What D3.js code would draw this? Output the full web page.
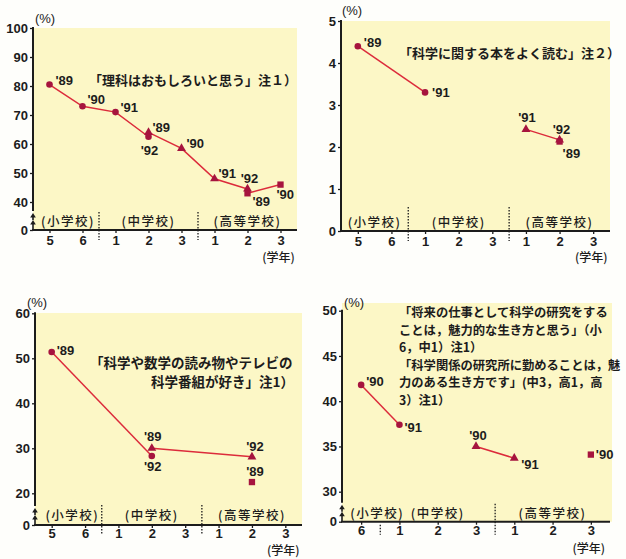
<!DOCTYPE html>
<html><head><meta charset="utf-8">
<script src="https://cdn.jsdelivr.net/npm/d3@7"></script>
<style>
html,body{margin:0;padding:0;background:#fefefb;}
svg{display:block;}
</style></head><body>
<svg id="chart" width="626" height="559"></svg>
<script>
// ---------- data ----------
const gradeKeys = ["小5","小6","中1","中2","中3","高1","高2","高3"];
const gradeKeysP4 = ["小6","中1","中2","中3","高1","高2","高3"];
const gradeTickLabels = ["5","6","1","2","3","1","2","3"];
const gradeTickLabelsP4 = ["6","1","2","3","1","2","3"];
const schoolNames = ["(小学校)","(中学校)","(高等学校)"];
const yearUnit = "(学年)";
const pctUnit = "(%)";

// panel 1
const p1Notes = ["「理科はおもしろいと思う」注１）"];
const p1YTicks = [0,40,50,60,70,80,90,100];
const p1CircleGrades = ["小5","小6","中1","中2"];
const p1CircleValues = [80.5,73,71,62.5];
const p1CircleYears = ["'89","'90","'91","'92"];
const p1TriangleGrades = ["中2","中3","高1","高2"];
const p1TriangleValues = [64,58.5,48,44.5];
const p1TriangleYears = ["'89","'90","'91","'92"];
const p1SquareGrades = ["高2","高3"];
const p1SquareValues = [43,46];
const p1SquareYears = ["'89","'90"];

// panel 2
const p2Notes = ["「科学に関する本をよく読む」注２）"];
const p2YTicks = [0,1,2,3,4,5];
const p2CircleGrades = ["小5","中1"];
const p2CircleValues = [4.4,3.3];
const p2CircleYears = ["'89","'91"];
const p2TriangleGrades = ["高1","高2"];
const p2TriangleValues = [2.42,2.17];
const p2TriangleYears = ["'91","'92"];
const p2SquareGrades = ["高2"];
const p2SquareValues = [2.13];
const p2SquareYears = ["'89"];

// panel 3
const p3Notes = ["「科学や数学の読み物やテレビの","科学番組が好き」注1）"];
const p3YTicks = [0,20,30,40,50,60];
const p3CircleGrades = ["小5","中2"];
const p3CircleValues = [51.4,28.3];
const p3CircleYears = ["'89","'92"];
const p3TriangleGrades = ["中2","高2"];
const p3TriangleValues = [30,28.1];
const p3TriangleYears = ["'89","'92"];
const p3SquareGrades = ["高2"];
const p3SquareValues = [22.5];
const p3SquareYears = ["'89"];

// panel 4
const p4Notes = ["「将来の仕事として科学の研究をする",
                 "ことは，魅力的な生き方と思う」（小",
                 "6，中1）注1）",
                 "「科学関係の研究所に勤めることは，魅",
                 "力のある生き方です」(中3，高1，高",
                 "3）注1）"];
const p4YTicks = [0,30,35,40,45,50];
const p4CircleGrades = ["小6","中1"];
const p4CircleValues = [41.8,37.4];
const p4CircleYears = ["'90","'91"];
const p4TriangleGrades = ["中3","高1"];
const p4TriangleValues = [35,33.7];
const p4TriangleYears = ["'90","'91"];
const p4SquareGrades = ["高3"];
const p4SquareValues = [34.1];
const p4SquareYears = ["'90"];

// ---------- drawing ----------
const svg = d3.select("#chart");
const YELLOW = "#fcf7c6", LINE = "#dc2b3b", MARK = "#a6143e", INK = "#1c1c1c";
const NUMFONT = "'Liberation Sans', Arial, sans-serif";
const JPFONT = "'Noto Sans CJK JP', 'Noto Sans CJK SC', sans-serif";

function series(grades, values, years, shape, offsets) {
  return { shape, offsets, points: d3.zip(grades, values, years).map(([g, v, yr]) => ({ g, v, yr })) };
}

function drawPanel(cfg) {
  const g = svg.append("g");
  const x = d3.scalePoint().domain(cfg.grades).range([cfg.x0, cfg.x1]).padding(0.5);
  const y = d3.scaleLinear().domain(cfg.yDomain).range(cfg.yRange);
  const y0 = y(0);
  const top = y(cfg.yDomain[cfg.yDomain.length - 1]);

  g.append("rect").attr("x", cfg.x0).attr("y", cfg.bgTop)
    .attr("width", cfg.bgRight - cfg.x0).attr("height", y0 - cfg.bgTop).attr("fill", YELLOW);

  // dotted separators
  cfg.separators.forEach(s => {
    const sx = (x(s.a) + x(s.b)) / 2;
    g.append("line").attr("x1", sx).attr("x2", sx).attr("y1", y0 + s.from).attr("y2", y0 + s.to)
      .attr("stroke", INK).attr("stroke-width", 1.3).attr("stroke-dasharray", "1.6,1.4");
  });

  // school labels
  cfg.schools.forEach((s, i) => {
    const cx = (x(s.first) + x(s.last)) / 2 + (s.dx || 0);
    g.append("text").attr("x", cx).attr("y", y0 + cfg.schoolDy).attr("text-anchor", "middle")
      .attr("font-family", JPFONT).attr("font-size", 12.5).attr("font-weight", 500)
      .attr("letter-spacing", 1.5).attr("fill", INK).text(schoolNames[i]);
  });

  // notes
  cfg.notes.forEach((t, i) => {
    const p = cfg.notePos[i];
    g.append("text").attr("x", p[0]).attr("y", p[1]).attr("text-anchor", p[2] || "start")
      .attr("font-family", JPFONT).attr("font-size", cfg.noteSize).attr("font-weight", 600)
      .attr("fill", INK).text(t);
  });

  // series
  const line = d3.line().x(d => x(d.g)).y(d => y(d.v));
  cfg.series.forEach(s => {
    if (s.points.length > 1) {
      g.append("path").attr("d", line(s.points)).attr("fill", "none")
        .attr("stroke", LINE).attr("stroke-width", 1.5);
    }
  });
  cfg.series.forEach(s => {
    s.points.forEach((d, i) => {
      const px = x(d.g), py = y(d.v);
      if (s.shape === "circle") {
        g.append("circle").attr("cx", px).attr("cy", py).attr("r", 3.3).attr("fill", MARK);
      } else {
        const sym = s.shape === "triangle" ? d3.symbolTriangle : d3.symbolSquare;
        const size = s.shape === "triangle" ? 34 : 40;
        g.append("path").attr("d", d3.symbol(sym, size)()).attr("transform", `translate(${px},${py})`).attr("fill", MARK);
      }
      const o = s.offsets[i];
      g.append("text").attr("x", px + o[0]).attr("y", py + o[1]).attr("text-anchor", o[2] || "start")
        .attr("font-family", NUMFONT).attr("font-size", 13).attr("font-weight", "bold")
        .attr("fill", INK).text(d.yr);
    });
  });

  // y axis
  const ya = g.append("g").attr("transform", `translate(${cfg.x0},0)`)
    .call(d3.axisLeft(y).tickValues(cfg.yTicks).tickSize(3).tickPadding(2).tickFormat(d3.format("d")));
  ya.select(".domain").remove();
  ya.selectAll(".tick line").attr("stroke", INK).attr("stroke-width", 1.3);
  ya.selectAll(".tick text").attr("font-family", NUMFONT).attr("font-size", 13)
    .attr("font-weight", "bold").attr("fill", INK);

  const ax = cfg.x0;
  if (cfg.broken) {
    g.append("line").attr("x1", ax).attr("x2", ax).attr("y1", top - 1).attr("y2", y0 - 19)
      .attr("stroke", INK).attr("stroke-width", 2);
    [[-17, -10], [-10, 0]].forEach(([tip, end]) => {
      g.append("path").attr("d", `M${ax},${y0 + tip}L${ax + 2.8},${y0 + tip + 4.5}L${ax - 2.8},${y0 + tip + 4.5}Z`).attr("fill", INK);
      g.append("line").attr("x1", ax).attr("x2", ax).attr("y1", y0 + tip + 3).attr("y2", y0 + end)
        .attr("stroke", INK).attr("stroke-width", 1.6);
    });
  } else {
    g.append("line").attr("x1", ax).attr("x2", ax).attr("y1", top - 1).attr("y2", y0)
      .attr("stroke", INK).attr("stroke-width", 2);
  }

  // x axis
  const xa = g.append("g").attr("transform", `translate(0,${y0})`)
    .call(d3.axisBottom(x).tickSize(3).tickPadding(cfg.tickPad).tickFormat((d, i) => cfg.tickLabels[i]));
  xa.select(".domain").remove();
  xa.selectAll(".tick line").attr("stroke", INK).attr("stroke-width", 1.3);
  xa.selectAll(".tick text").attr("font-family", NUMFONT).attr("font-size", 13)
    .attr("font-weight", "bold").attr("fill", INK);
  g.append("line").attr("x1", ax - 1).attr("x2", cfg.x1).attr("y1", y0).attr("y2", y0)
    .attr("stroke", INK).attr("stroke-width", 2);

  // units
  g.append("text").attr("x", cfg.pctPos[0]).attr("y", cfg.pctPos[1]).attr("text-anchor", "middle")
    .attr("font-family", NUMFONT).attr("font-size", 13).attr("fill", INK).text(pctUnit);
  g.append("text").attr("x", x(cfg.grades[cfg.grades.length - 1]) - 2).attr("y", y0 + cfg.unitDy)
    .attr("text-anchor", "middle").attr("font-family", JPFONT).attr("font-size", 12)
    .attr("font-weight", 500).attr("fill", INK).text(yearUnit);
}

// Panel 1
drawPanel({
  grades: gradeKeys, tickLabels: gradeTickLabels,
  x0: 33, x1: 297, bgTop: 28, bgRight: 297,
  yDomain: [0, 40, 100], yRange: [230, 202, 28], yTicks: p1YTicks, broken: true,
  separators: [{ a: "小6", b: "中1", from: -18, to: 10 }, { a: "中3", b: "高1", from: -18, to: 10 }],
  schools: [{ first: "小5", last: "小6", dx: 2 }, { first: "中2", last: "中2" }, { first: "高2", last: "高2" }],
  schoolDy: -4, unitDy: 32, tickPad: 3,
  notes: p1Notes, notePos: [[89, 85]], noteSize: 13,
  pctPos: [45, 23],
  series: [
    series(p1CircleGrades, p1CircleValues, p1CircleYears, "circle", [[6, 0], [5, -2], [5, 0], [1, 18, "middle"]]),
    series(p1TriangleGrades, p1TriangleValues, p1TriangleYears, "triangle", [[4, 0], [5, 0], [4, -1], [2, -6, "middle"]]),
    series(p1SquareGrades, p1SquareValues, p1SquareYears, "square", [[5, 13], [-4, 14]])
  ]
});

// Panel 2
drawPanel({
  grades: gradeKeys, tickLabels: gradeTickLabels,
  x0: 341, x1: 610, bgTop: 21, bgRight: 610,
  yDomain: [0, 5], yRange: [231, 21], yTicks: p2YTicks, broken: false,
  separators: [{ a: "小6", b: "中1", from: -24, to: 10 }, { a: "中3", b: "高1", from: -24, to: 10 }],
  schools: [{ first: "小5", last: "小6" }, { first: "中2", last: "中2" }, { first: "高2", last: "高2" }],
  schoolDy: -4, unitDy: 31, tickPad: 3,
  notes: p2Notes, notePos: [[399, 58]], noteSize: 13,
  pctPos: [352, 15],
  series: [
    series(p2CircleGrades, p2CircleValues, p2CircleYears, "circle", [[6, 1], [7, 5]]),
    series(p2TriangleGrades, p2TriangleValues, p2TriangleYears, "triangle", [[1, -7, "middle"], [2, -6, "middle"]]),
    series(p2SquareGrades, p2SquareValues, p2SquareYears, "square", [[3, 16]])
  ]
});

// Panel 3
drawPanel({
  grades: gradeKeys, tickLabels: gradeTickLabels,
  x0: 35, x1: 302, bgTop: 313, bgRight: 302,
  yDomain: [0, 20, 60], yRange: [525, 493.3, 313.3], yTicks: p3YTicks, broken: true,
  separators: [{ a: "小6", b: "中1", from: -20, to: 10 }, { a: "中3", b: "高1", from: -20, to: 10 }],
  schools: [{ first: "小5", last: "小6", dx: 4 }, { first: "中2", last: "中2" }, { first: "高2", last: "高2" }],
  schoolDy: -5, unitDy: 30, tickPad: 1,
  notes: p3Notes, notePos: [[90, 368], [294, 387, "end"]], noteSize: 13.5,
  pctPos: [37, 307],
  series: [
    series(p3CircleGrades, p3CircleValues, p3CircleYears, "circle", [[5, 3], [1, 15, "middle"]]),
    series(p3TriangleGrades, p3TriangleValues, p3TriangleYears, "triangle", [[1, -7, "middle"], [3, -6, "middle"]]),
    series(p3SquareGrades, p3SquareValues, p3SquareYears, "square", [[3, -6, "middle"]])
  ]
});

// Panel 4
drawPanel({
  grades: gradeKeysP4, tickLabels: gradeTickLabelsP4,
  x0: 342, x1: 610, bgTop: 303, bgRight: 612,
  yDomain: [0, 30, 50], yRange: [521.7, 491.7, 310.7], yTicks: p4YTicks, broken: true,
  separators: [{ a: "小6", b: "中1", from: 3, to: 13 }, { a: "中3", b: "高1", from: -18, to: 13 }],
  schools: [{ first: "小6", last: "小6", dx: 16 }, { first: "中2", last: "中2" }, { first: "高2", last: "高2" }],
  schoolDy: -4, unitDy: 31, tickPad: 1,
  notes: p4Notes, notePos: [[399, 317], [399, 334.5], [399, 352], [399, 369.5], [399, 387], [399, 404.5]], noteSize: 12.3,
  pctPos: [354, 307],
  series: [
    series(p4CircleGrades, p4CircleValues, p4CircleYears, "circle", [[5, 1], [5, 7]]),
    series(p4TriangleGrades, p4TriangleValues, p4TriangleYears, "triangle", [[2, -6, "middle"], [7, 11]]),
    series(p4SquareGrades, p4SquareValues, p4SquareYears, "square", [[5, 4]])
  ]
});
</script>
</body></html>
